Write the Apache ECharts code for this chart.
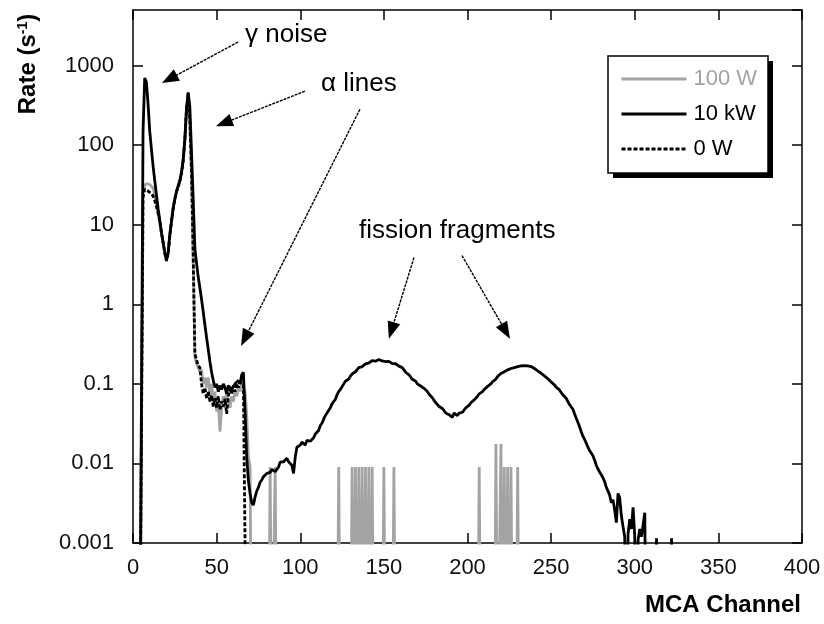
<!DOCTYPE html>
<html><head><meta charset="utf-8">
<script src="https://cdn.jsdelivr.net/npm/echarts@6/dist/echarts.min.js"></script>
<style>html,body{margin:0;padding:0;background:#fff}#c{width:824px;height:624px}</style>
</head><body><div id="c"></div>
<script>
// zero counts: plotted below the log-axis floor (clipped), like the original
const ZERO = 1e-5;
const seriesNames = ['100 W', '10 kW', '0 W'];
const xRange = [0, 400];
const xStep = 50;
const yRange = [0.001, 5000];

// [MCA channel, rate (s^-1)]
const data100W = [
 [4,ZERO],[5,ZERO],[6,26],[7,31],[8,33],[9,33],[10,32],[11,31],[12,29],[13,24],[14,18],[15,14],[16,11],[17,8],[18,6],[19,4.4],[20,3.5],[21,4.4],[22,7.2],[23,11],[24,16],[25,21],[26,26],[27,30],[28,35],[29,44],[30,63],[31,115],[32,285],[33,430],[34,190],[35,42],[36,3.5],[37,0.22],[38,0.18],[39,0.16],[40,0.14],[41,0.15],[42,0.1],[43,0.12],[44,0.09],[45,0.12],[46,0.07],[47,0.1],[48,0.06],[49,0.08],[50,0.045],[51,0.06],[52,0.025],[53,0.05],[54,0.07],[55,0.05],[56,0.08],[57,0.06],[58,0.05],[59,0.07],[60,0.06],[61,0.08],[62,0.07],[63,0.09],[64,0.08],[65,0.1],[66,0.09],[67,0.08],[68,0.04],[69,0.012],[70,0.009],[71,ZERO],
 [81,ZERO],[82,0.009],[83,ZERO],[84,ZERO],[85,0.009],[86,ZERO],
 [122,ZERO],[123,0.009],[124,ZERO],[130,ZERO],[131,0.009],[132,ZERO],[133,0.009],[134,ZERO],[135,0.009],[136,ZERO],[137,0.009],[138,ZERO],[139,0.009],[140,ZERO],[141,0.009],[142,ZERO],[143,0.009],[144,ZERO],
 [149,ZERO],[150,0.009],[151,ZERO],[155,ZERO],[156,0.009],[157,ZERO],
 [206,ZERO],[207,0.009],[208,ZERO],[216,ZERO],[217,0.0176],[218,ZERO],[219,ZERO],[220,0.0176],[221,ZERO],[222,0.009],[223,ZERO],[224,0.009],[225,ZERO],[226,0.009],[227,ZERO],[228,ZERO],[229,ZERO],[230,0.009],[231,ZERO]
];

const data10kW = [
 [4,ZERO],[5,ZERO],[6,150],[7,700],[8,620],[9,330],[10,150],[11,90],[12,55],[13,36],[14,24],[15,16],[16,11.5],[17,8],[18,6],[19,4.5],[20,3.6],[21,4.4],[22,7.5],[23,11],[24,16],[25,21],[26,26],[27,31],[28,36],[29,46],[30,66],[31,120],[32,290],[33,460],[34,300],[35,80],[36,21],[37,5],[38,3.3],[39,2.2],[40,1.6],[41,1.15],[42,0.8],[43,0.55],[44,0.38],[45,0.27],[46,0.19],[47,0.14],[48,0.11],[49,0.09],[50,0.1],[51,0.08],[52,0.095],[53,0.085],[54,0.1],[55,0.09],[56,0.075],[57,0.095],[58,0.1],[59,0.085],[60,0.09],[61,0.1],[62,0.095],[63,0.11],[64,0.1],[65,0.13],[66,0.14],[67,0.045],[68,0.012],[69,0.006],[70,0.0042],[71,0.0032],[72,0.003],[73,0.0038],[74,0.0045],[75,0.005],[76,0.0058],[77,0.0062],[78,0.0068],[79,0.007],[80,0.0075],[81,0.0079],[82,0.0077],[83,0.0084],[84,0.0081],[85,0.0079],[86,0.0082],[87,0.009],[88,0.0104],[89,0.011],[90,0.0105],[91,0.011],[92,0.0116],[93,0.0105],[94,0.011],[95,0.0095],[96,0.0075],[97,0.012],[98,0.016],
 [99,0.0155],[100,0.017],[101,0.0185],[102,0.0175],[103,0.017],[104,0.0195],[105,0.02],[106,0.019],[107,0.018],[108,0.021],[109,0.0235],[110,0.024],[111,0.026],[112,0.03],[113,0.032],[114,0.036],[115,0.04],[116,0.043],[117,0.045],[118,0.05],[119,0.056],[120,0.06],[121,0.064],[122,0.073],[123,0.08],[124,0.085],[125,0.09],[126,0.1],[127,0.108],[128,0.112],[129,0.115],[130,0.125],[131,0.133],[132,0.138],[133,0.142],[134,0.15],[135,0.16],[136,0.163],[137,0.165],[138,0.172],[139,0.178],[140,0.18],[141,0.183],[142,0.19],[143,0.196],[144,0.197],[145,0.193],[146,0.2],[147,0.202],[148,0.198],[149,0.194],[150,0.196],[151,0.19],[152,0.19],[153,0.192],[154,0.186],[155,0.18],[156,0.18],[157,0.179],[158,0.173],[159,0.167],[160,0.165],[161,0.16],[162,0.15],[163,0.14],[164,0.135],[165,0.13],[166,0.122],[167,0.114],[168,0.113],[169,0.108],[170,0.1],[171,0.1],[172,0.094],[173,0.089],[174,0.088],[175,0.086],[176,0.08],[177,0.074],[178,0.07],[179,0.067],[180,0.062],[181,0.058],[182,0.055],[183,0.052],[184,0.05],[185,0.049],[186,0.046],[187,0.043],[188,0.042],[189,0.041],[190,0.04],[191,0.038],[192,0.043],[193,0.041],[194,0.04],[195,0.043],[196,0.045],[197,0.044],[198,0.047],[199,0.05],[200,0.052],[201,0.054],[202,0.058],[203,0.061],[204,0.063],[205,0.065],[206,0.07],[207,0.075],[208,0.077],[209,0.08],[210,0.085],[211,0.09],[212,0.093],[213,0.095],[214,0.1],[215,0.107],[216,0.112],[217,0.115],[218,0.124],[219,0.13],[220,0.135],[221,0.136],[222,0.142],[223,0.148],[224,0.15],[225,0.152],[226,0.156],[227,0.16],[228,0.16],[229,0.16],[230,0.165],[231,0.167],[232,0.168],[233,0.165],[234,0.17],[235,0.171],[236,0.168],[237,0.165],[238,0.165],[239,0.162],[240,0.156],[241,0.15],[242,0.146],[243,0.142],[244,0.136],[245,0.13],[246,0.126],[247,0.121],[248,0.116],[249,0.11],[250,0.106],[251,0.102],[252,0.097],[253,0.091],[254,0.088],[255,0.084],[256,0.078],[257,0.073],[258,0.07],[259,0.066],[260,0.06],[261,0.055],[262,0.052],[263,0.048],[264,0.042],[265,0.037],[266,0.033],[267,0.029],[268,0.025],[269,0.022],[270,0.02],[271,0.018],[272,0.016],[273,0.0145],[274,0.0135],[275,0.0125],[276,0.011],[277,0.0095],[278,0.0085],[279,0.0078],[280,0.0072],[281,0.0066],[282,0.0059],[283,0.005],[284,0.0045],[285,0.004],[286,0.0032],[287,0.0035],[288,0.0026],[289,0.0018],[290,0.0042],[291,0.0037],[292,0.0022],[293,0.0016],[294,0.0012],[295,ZERO],[296,0.0013],[297,0.002],[298,0.0015],[299,0.0028],[300,0.0012],[301,ZERO],[302,0.0011],[303,0.0015],[304,0.0012],[305,0.0017],[306,0.0024],[307,ZERO],
 [312,ZERO],[313,0.00115],[314,ZERO],[321,ZERO],[322,0.00115],[323,ZERO]
];

const data0W = [
 [4,ZERO],[5,ZERO],[6,22],[7,28],[8,27],[9,26.5],[10,25.5],[11,24.5],[12,23],[13,20],[14,17],[15,14],[16,11],[17,8],[18,6],[19,4.4],[20,3.5],[21,4.4],[22,7.2],[23,11],[24,16],[25,21],[26,26],[27,30],[28,35],[29,44],[30,63],[31,115],[32,285],[33,440],[34,200],[35,45],[36,4],[37,0.24],[38,0.2],[39,0.17],[40,0.16],[41,0.1],[42,0.075],[43,0.09],[44,0.065],[45,0.08],[46,0.06],[47,0.072],[48,0.052],[49,0.066],[50,0.05],[51,0.07],[52,0.047],[53,0.06],[54,0.052],[55,0.065],[56,0.042],[57,0.07],[58,0.085],[59,0.075],[60,0.095],[61,0.08],[62,0.1],[63,0.09],[64,0.105],[65,0.11],[66,0.1],[67,0.1],[68,ZERO],[70,ZERO]
];

// annotations in data space: text labels and arrows [tail, tip]
const annotationLabels = [
 {text: 'γ noise', at: [67, 2420]},
 {text: 'α lines', at: [112.4, 585]},
 {text: 'fission fragments', at: [135.1, 8.47]}
];
const annotationArrows = [
 [[62.8, 1977], [17.3, 603]],
 [[102.8, 477], [49.6, 173]],
 [[135.7, 283], [64.6, 0.30]],
 [[168, 3.87], [153, 0.37]],
 [[196.7, 4.1], [225.4, 0.37]]
];

const FONT = '"Liberation Sans", Arial, Helvetica, sans-serif';
const GRAY = '#a3a3a3';
const chart = echarts.init(document.getElementById('c'), null, {renderer: 'canvas'});

const axisLine = {show: true, onZero: false, lineStyle: {color: '#000', width: 1.5}};
const tick = {show: true, inside: true, length: 10, lineStyle: {color: '#000', width: 1.5}};
const fmtY = v => String(+Number(v).toPrecision(6));

chart.setOption({
  animation: false,
  backgroundColor: '#fff',
  grid: {left: 133, right: 22, top: 10, bottom: 81, containLabel: false, outerBoundsMode: 'none'},
  legend: {
    orient: 'vertical', left: 608, top: 56, z: 20,
    padding: [12, 14, 13, 12],
    itemWidth: 65, itemHeight: 14, itemGap: 13,
    backgroundColor: 'transparent', borderWidth: 0,
    itemStyle: {opacity: 0},
    lineStyle: {width: 3},
    textStyle: {fontSize: 22, fontFamily: FONT, color: '#000', padding: [0, 0, 0, 2]},
    data: [
      {name: seriesNames[0], textStyle: {color: GRAY}},
      {name: seriesNames[1]},
      {name: seriesNames[2]}
    ]
  },
  xAxis: [
    {type: 'value', min: xRange[0], max: xRange[1], interval: xStep, position: 'bottom',
     axisLine, axisTick: tick, splitLine: {show: false},
     axisLabel: {fontSize: 22, fontFamily: FONT, color: '#111', margin: 14}},
    {type: 'value', min: xRange[0], max: xRange[1], interval: xStep, position: 'top',
     axisLine, axisTick: tick, splitLine: {show: false}, axisLabel: {show: false}}
  ],
  yAxis: [
    {type: 'log', logBase: 10, min: yRange[0], max: yRange[1], position: 'left',
     axisLine, axisTick: tick, splitLine: {show: false}, minorTick: {show: false},
     axisLabel: {fontSize: 22, fontFamily: FONT, color: '#111', margin: 19, showMaxLabel: false, formatter: fmtY}},
    {type: 'log', logBase: 10, min: yRange[0], max: yRange[1], position: 'right',
     axisLine, axisTick: tick, splitLine: {show: false}, axisLabel: {show: false}}
  ],
  series: [
    {name: seriesNames[0], type: 'line', data: data100W, symbol: 'none', clip: true, z: 2,
     lineStyle: {color: GRAY, width: 2.8}, itemStyle: {color: GRAY}},
    {name: seriesNames[1], type: 'line', data: data10kW, symbol: 'none', clip: true, z: 3,
     lineStyle: {color: '#000', width: 2.8}, itemStyle: {color: '#000'}},
    {name: seriesNames[2], type: 'line', data: data0W, symbol: 'none', clip: true, z: 4,
     lineStyle: {color: '#000', width: 2.8, type: [4, 2]}, itemStyle: {color: '#000'}}
  ]
});

// annotations, positioned through the chart's own scales
const toPx = p => chart.convertToPixel({xAxisIndex: 0, yAxisIndex: 0}, p);
const graphics = [];
// legend frame with hard drop shadow
graphics.push({type: 'rect', z: 10, shape: {x: 613, y: 61, width: 160, height: 117}, style: {fill: '#000'}});
graphics.push({type: 'rect', z: 11, shape: {x: 608, y: 56, width: 160, height: 117}, style: {fill: '#fff', stroke: '#000', lineWidth: 1.5}});
annotationLabels.forEach(a => {
  const p = toPx(a.at);
  graphics.push({type: 'text', x: p[0], y: p[1], z: 50,
    style: {text: a.text, font: '26px ' + FONT, fill: '#000', align: 'left', verticalAlign: 'middle'}});
});
annotationArrows.forEach(([tail, tip]) => {
  const p0 = toPx(tail), p1 = toPx(tip);
  const dx = p1[0] - p0[0], dy = p1[1] - p0[1], len = Math.hypot(dx, dy);
  const ux = dx / len, uy = dy / len, nx = -uy, ny = ux;
  const L = 17, W = 6.5;
  const bx = p1[0] - ux * L, by = p1[1] - uy * L;
  graphics.push({type: 'line', z: 50, shape: {x1: p0[0], y1: p0[1], x2: bx + ux * 2, y2: by + uy * 2},
    style: {stroke: '#000', lineWidth: 1.4, lineDash: [3, 1]}});
  graphics.push({type: 'polygon', z: 50, shape: {points: [[p1[0], p1[1]], [bx + nx * W, by + ny * W], [bx - nx * W, by - ny * W]]},
    style: {fill: '#000'}});
});
// axis titles
graphics.push({type: 'text', x: 28, y: 64, rotation: Math.PI / 2, z: 50,
  style: {text: 'Rate (s{sup|-1})', font: 'bold 24px ' + FONT, fill: '#000', align: 'center', verticalAlign: 'middle',
    rich: {sup: {fontSize: 14, fontWeight: 'bold', fontFamily: FONT, verticalAlign: 'top', fill: '#000'}}}});
graphics.push({type: 'text', x: 801, y: 605, z: 50,
  style: {text: 'MCA Channel', font: 'bold 24px ' + FONT, fill: '#000', align: 'right', verticalAlign: 'middle'}});
chart.setOption({graphic: graphics});
</script></body></html>
